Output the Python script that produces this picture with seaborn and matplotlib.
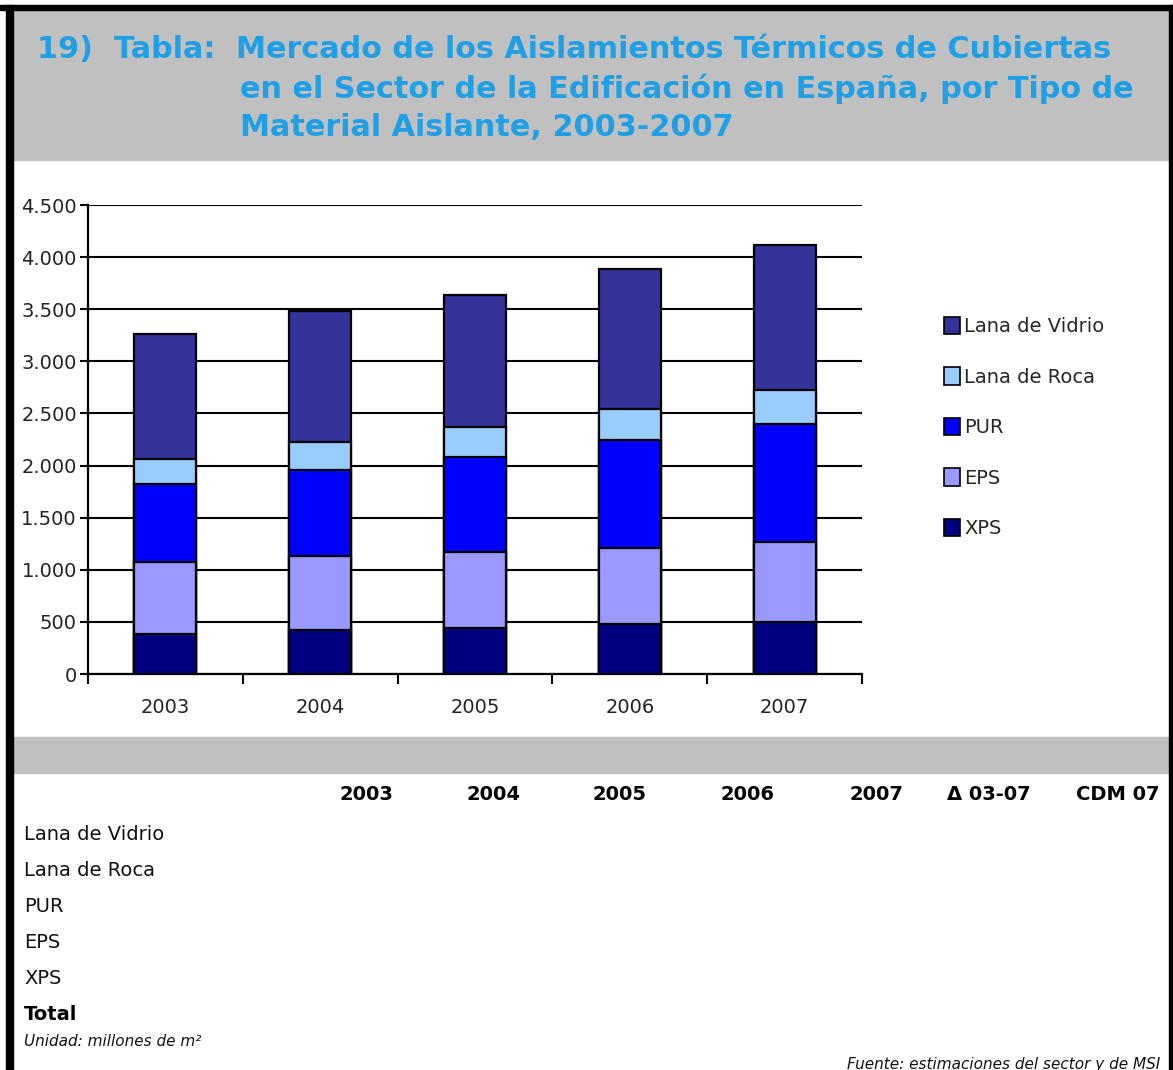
import matplotlib
matplotlib.use("Agg")
import matplotlib.pyplot as plt
from matplotlib.patches import Rectangle, Patch
from matplotlib.ticker import FuncFormatter, FixedLocator
import numpy as np
import pandas as pd
import seaborn as sns

# ─── Data (millones de m²) ────────────────────────────────────
years = ["2003", "2004", "2005", "2006", "2007"]
materials = ["XPS", "EPS", "PUR", "Lana de Roca", "Lana de Vidrio"]  # de abajo a arriba
xps = [387, 422, 444, 483, 502]
eps = [688, 710, 727, 726, 765]
pur = [745, 825, 914, 1033, 1129]
lana_roca = [246, 266, 288, 304, 326]
lana_vidrio = [1193, 1263, 1267, 1343, 1397]
colors = {
    "XPS": "#000080",
    "EPS": "#9999FF",
    "PUR": "#0000FF",
    "Lana de Roca": "#99CCFF",
    "Lana de Vidrio": "#333399",
}
y_ticks = [0, 500, 1000, 1500, 2000, 2500, 3000, 3500, 4000, 4500]
table_cols = ["2003", "2004", "2005", "2006", "2007", "Δ 03-07", "CDM 07"]
table_rows = ["Lana de Vidrio", "Lana de Roca", "PUR", "EPS", "XPS"]

df = pd.DataFrame({"year": years, "XPS": xps, "EPS": eps, "PUR": pur,
                   "Lana de Roca": lana_roca, "Lana de Vidrio": lana_vidrio})
cum = df[materials].cumsum(axis=1)
cum["year"] = df["year"]

sns.set_style("white")
plt.rcParams["font.family"] = ["DejaVu Sans"]

W, H = 1173, 1070
fig = plt.figure(figsize=(W / 100, H / 100), dpi=100)
fig.patch.set_facecolor("white")


def fx(px):
    return px / W


def fy(py):
    return 1 - py / H


# ─── Frame and grey bands ─────────────────────────────────────
fig.patches.append(Rectangle((fx(12), fy(160)), fx(1158), 150 / H,
                             transform=fig.transFigure, color="#C0C0C0", zorder=0))
fig.patches.append(Rectangle((fx(12), fy(773)), fx(1158), 36 / H,
                             transform=fig.transFigure, color="#C0C0C0", zorder=0))
fig.patches.append(Rectangle((fx(0), fy(10)), 1, 5 / H,
                             transform=fig.transFigure, color="black", zorder=1))
fig.patches.append(Rectangle((fx(6), 0), fx(7), fy(5),
                             transform=fig.transFigure, color="black", zorder=1))
fig.patches.append(Rectangle((fx(1169), 0), fx(4), fy(5),
                             transform=fig.transFigure, color="black", zorder=1))

# ─── Title ────────────────────────────────────────────────────
tcol = "#1E9FE6"
tkw = dict(color=tcol, fontsize=21.8, fontweight="bold", va="center", ha="left")
fig.text(fx(37), fy(49), "19)  Tabla:", **tkw)
fig.text(fx(236), fy(49), "Mercado de los Aislamientos Térmicos de Cubiertas", **tkw)
fig.text(fx(240), fy(89), "en el Sector de la Edificación en España, por Tipo de", **tkw)
fig.text(fx(240), fy(127), "Material Aislante, 2003-2007", **tkw)

# ─── Chart ────────────────────────────────────────────────────
ax = fig.add_axes([fx(88), fy(674), fx(862 - 88), (674 - 205) / H])
for m in reversed(materials):
    sns.barplot(data=cum, x="year", y=m, color=colors[m], width=0.4,
                saturation=1, edgecolor="black", linewidth=1.6, ax=ax, zorder=3)

ax.set_xlim(-0.5, 4.5)
ax.set_ylim(0, 4500)
ax.yaxis.set_major_locator(FixedLocator(y_ticks))
ax.yaxis.set_major_formatter(FuncFormatter(lambda v, p: f"{int(v):,}".replace(",", ".")))
ax.yaxis.grid(True, color="black", linewidth=1.5, zorder=0)
ax.set_axisbelow(True)
ax.set_xlabel("")
ax.set_ylabel("")
for s in ["top", "right"]:
    ax.spines[s].set_visible(False)
for s in ["left", "bottom"]:
    ax.spines[s].set_color("black")
    ax.spines[s].set_linewidth(1.6)
ax.tick_params(axis="y", direction="out", length=6, width=1.5, color="black",
               left=True, labelsize=14, labelcolor="#222222", pad=2)
ax.tick_params(axis="x", which="major", length=0, labelsize=14,
               labelcolor="#222222", pad=17)
ax.set_xticks(np.arange(-0.5, 5, 1), minor=True)
ax.tick_params(axis="x", which="minor", direction="out", length=7, width=1.5,
               color="black", bottom=True)

handles = [Patch(facecolor=colors[m], edgecolor="black", linewidth=1.2)
           for m in reversed(materials)]
fig.legend(handles, list(reversed(materials)), loc="upper left",
           bbox_to_anchor=(fx(936), fy(309)), frameon=False, fontsize=14,
           handlelength=0.85, handleheight=1.0, handletextpad=0.2,
           labelspacing=1.6, borderaxespad=0)

# ─── Table (headers and row labels only) ──────────────────────
col_right = [393, 520, 647, 775, 903, 1031, 1159]
for c, xr in zip(table_cols, col_right):
    fig.text(fx(xr), fy(794), c, ha="right", va="center", fontsize=14,
             fontweight="bold", color="black")
row_y = [834, 870, 906, 942, 979]
for r, yy in zip(table_rows, row_y):
    fig.text(fx(24), fy(yy), r, ha="left", va="center", fontsize=14, color="#111111")
fig.text(fx(24), fy(1015), "Total", ha="left", va="center", fontsize=14,
         fontweight="bold", color="black")
fig.text(fx(24), fy(1041), "Unidad: millones de m²", ha="left", va="center",
         fontsize=11, style="italic", color="#111111")
fig.text(fx(1160), fy(1064), "Fuente: estimaciones del sector y de MSI", ha="right",
         va="center", fontsize=11, style="italic", color="#111111")

fig.savefig("out.png", dpi=100, facecolor="white")
